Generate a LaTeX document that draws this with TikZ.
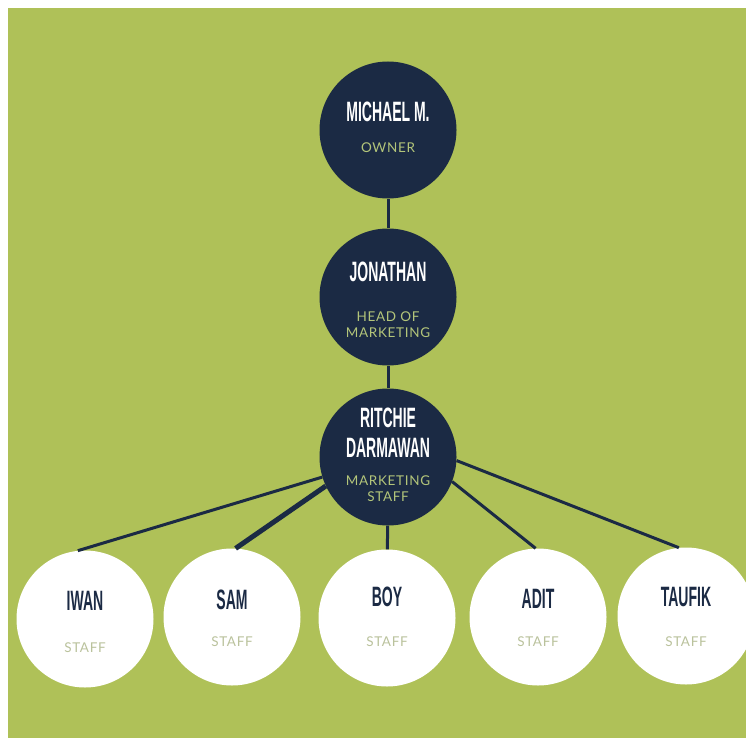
\documentclass[tikz,border=0pt]{standalone}
\usepackage{fontspec}
\usepackage{xcolor}
\usepackage{tikz}
\newfontfamily\namefont{Liberation Sans}[FakeStretch=0.5]
\newfontfamily\rolefont{Lato}[LetterSpace=5]
\definecolor{bggreen}{HTML}{AFC158}
\definecolor{navy}{HTML}{1B2A44}
\definecolor{rolegreen}{HTML}{B3C57A}
\definecolor{staffgray}{HTML}{BAC29C}

\begin{document}
\begin{tikzpicture}[x=1pt, y=-1pt,
  boss/.style={circle, fill=navy, minimum size=137pt, inner sep=0pt},
  staff/.style={circle, fill=white, minimum size=137pt, inner sep=0pt},
  nametext/.style={text=white, align=center, font=\namefont\bfseries\fontsize{28}{30}\selectfont},
  staffname/.style={nametext, text=navy},
  roletext/.style={text=rolegreen, align=center, font=\rolefont\fontsize{13.5}{16.5}\selectfont},
  stafftext/.style={roletext, text=staffgray, font=\rolefont\fontsize{13.5}{16}\selectfont},
  link/.style={navy, line width=3pt}]
\useasboundingbox (0,0) rectangle (746,738);
\fill[white] (0,0) rectangle (746,738);
\fill[bggreen] (8,8) rectangle (746,738);
\node[boss] (own) at (388,130) {};
\node[boss] (head) at (388,297) {};
\node[boss] (rit) at (388,457) {};
\node[staff] (iwan) at (85,619) {};
\node[staff] (sam) at (232,617) {};
\node[staff] (boy) at (387,618) {};
\node[staff] (adit) at (538,617) {};
\node[staff] (taufik) at (686,616) {};
\draw[link] (own) -- (head);
\draw[link] (head) -- (rit);
\draw[link] (rit.197) -- (iwan.96);
\draw[link, line width=5pt] (rit.205) -- (sam.87);
\draw[link] (rit) -- (boy);
\draw[link] (rit.-21) -- (adit.92);
\draw[link] (rit.-3) -- (taufik.96);
\node[nametext] (ownName) at (388,112) {MICHAEL M.};
\node[roletext] (ownRole) at (388,148) {OWNER};
\node[nametext] (headName) at (388,272) {JONATHAN};
\node[roletext] (headRole) at (388,324.5) {HEAD OF\\MARKETING};
\node[nametext] (ritName) at (388,433) {RITCHIE\\DARMAWAN};
\node[roletext] (ritRole) at (388,488.5) {MARKETING\\STAFF};
\node[staffname] (iwanName) at (85,601) {IWAN};
\node[stafftext] (iwanRole) at (85,648) {STAFF};
\node[staffname] (samName) at (232,600) {SAM};
\node[stafftext] (samRole) at (232,642) {STAFF};
\node[staffname] (boyName) at (387,597) {BOY};
\node[stafftext] (boyRole) at (387,642) {STAFF};
\node[staffname] (aditName) at (538,599) {ADIT};
\node[stafftext] (aditRole) at (538,642) {STAFF};
\node[staffname] (taufikName) at (686,597) {TAUFIK};
\node[stafftext] (taufikRole) at (686,642) {STAFF};
\end{tikzpicture}
\end{document}
